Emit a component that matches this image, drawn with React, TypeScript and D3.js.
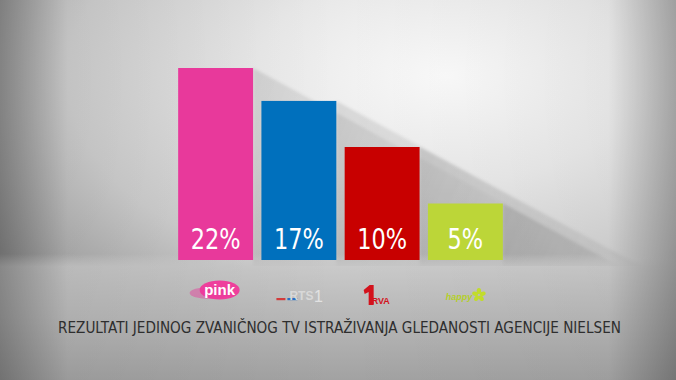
import React from 'react'
import * as d3 from 'd3'

// channel shares
const channels = ['pink', 'rts1', 'prva', 'happy']
const shares = [22, 17, 10, 5]
const barColors = ['#e8399b', '#0070bd', '#c80000', '#bcd638']
const caption = 'REZULTATI JEDINOG ZVANIČNOG TV ISTRAŽIVANJA GLEDANOSTI AGENCIJE NIELSEN'

const W = 676
const H = 380
const baseY = 260

const condensed = "'DejaVu Sans Condensed', 'DejaVu Sans', sans-serif"

export default function App() {
  const x = d3.scaleBand<string>().domain(channels).range([174, 507]).paddingInner(0.1).paddingOuter(0.05)
  // the broadcast graphic is not to a linear scale; two linear pieces fit it
  const y = d3.scaleLinear().domain([0, 10, 22]).range([baseY, baseY - 113, baseY - 192])

  const slope = 0.54
  const L = 360
  const cx = (c: string) => x(c)! + x.bandwidth() / 2

  return (
    <svg width={W} height={H} style={{ position: 'absolute', left: 0, top: 0, display: 'block' }}>
      <defs>
        <radialGradient id="bg" cx="0.66" cy="0.2" r="0.8">
          <stop offset="0" stopColor="#fafafa" />
          <stop offset="0.35" stopColor="#e8e8e8" />
          <stop offset="0.7" stopColor="#cdcdcd" />
          <stop offset="1" stopColor="#a0a0a0" />
        </radialGradient>
        <linearGradient id="floor" x1="0" y1="0" x2="0" y2="1">
          <stop offset="0" stopColor="#d0d0d0" stopOpacity="0" />
          <stop offset="0.1" stopColor="#c8c8c8" stopOpacity="0.85" />
          <stop offset="0.5" stopColor="#b8b8b8" stopOpacity="1" />
          <stop offset="1" stopColor="#a2a2a2" stopOpacity="1" />
        </linearGradient>
        <linearGradient id="vig" x1="0" y1="0" x2="1" y2="0">
          <stop offset="0" stopColor="#000" stopOpacity="0.3" />
          <stop offset="0.1" stopColor="#000" stopOpacity="0.05" />
          <stop offset="0.5" stopColor="#000" stopOpacity="0" />
          <stop offset="0.9" stopColor="#000" stopOpacity="0.03" />
          <stop offset="1" stopColor="#000" stopOpacity="0.28" />
        </linearGradient>
        <linearGradient id="shadow" x1="0" y1="0" x2="1" y2="0.54" gradientUnits="objectBoundingBox">
          <stop offset="0" stopColor="#000" stopOpacity="0.1" />
          <stop offset="0.45" stopColor="#000" stopOpacity="0.04" />
          <stop offset="1" stopColor="#000" stopOpacity="0" />
        </linearGradient>
        <clipPath id="wall">
          <rect x={0} y={0} width={W} height={baseY + 6} />
        </clipPath>
        <filter id="blur"><feGaussianBlur stdDeviation="1.5" /></filter>
      </defs>

      <rect x={0} y={0} width={W} height={H} fill="url(#bg)" />

      {/* long shadows cast to the lower right */}
      <g clipPath="url(#wall)" filter="url(#blur)">
        {channels.map((c, i) => {
          const x1 = x(c)! + x.bandwidth()
          const top = y(shares[i])
          const pts = [
            [x1, top],
            [x1 + L, top + slope * L],
            [x1 + L, baseY + 300],
            [x1, baseY + 300],
          ]
          return <polygon key={c} points={pts.map(p => p.join(',')).join(' ')} fill="url(#shadow)" />
        })}
      </g>

      <rect x={0} y={baseY - 6} width={W} height={H - baseY + 6} fill="url(#floor)" />
      <rect x={0} y={0} width={W} height={H} fill="url(#vig)" />

      {channels.map((c, i) => (
        <g key={c}>
          <rect x={x(c)} y={y(shares[i])} width={x.bandwidth()} height={baseY - y(shares[i])} fill={barColors[i]} />
          <text
            x={cx(c)}
            y={249}
            textAnchor="middle"
            fill="#fff"
            fontSize={29}
            fontStretch="condensed"
            fontFamily={condensed}
            transform={`translate(${cx(c)},0) scale(0.86,1) translate(${-cx(c)},0)`}
          >
            {shares[i]}%
          </text>
        </g>
      ))}

      {/* channel logos, approximated */}
      <g>
        <ellipse cx={cx('pink') + 4} cy={290} rx={20} ry={9.5} fill="#ee3f9c" />
        <ellipse cx={cx('pink') - 6} cy={293} rx={20} ry={6} fill="#e8399b" opacity={0.45} />
        <text x={cx('pink') + 4} y={295} textAnchor="middle" fill="#fff" fontSize={15} fontWeight="bold" fontFamily="'Liberation Sans', sans-serif">pink</text>

        <rect x={x('rts1')! + 15} y={298} width={9} height={2.2} fill="#d23b3b" />
        <rect x={x('rts1')! + 26} y={298} width={10} height={2.2} fill="#2a6fc4" />
        <text x={x('rts1')! + 40} y={300} textAnchor="middle" fill="#d8d8d8" fontSize={12} fontWeight="bold" fontFamily="'Liberation Sans', sans-serif">RTS</text>
        <text x={x('rts1')! + 57} y={302} textAnchor="middle" fill="#e2e2e2" fontSize={16} fontFamily="'Liberation Sans', sans-serif">1</text>

        <path
          d={`M${x('prva')! + 19},${290} l6,-5 h4 v20 h-5 v-13 l-4,2 z`}
          fill="#d3121c"
        />
        <text x={x('prva')! + 27} y={304} fill="#d3121c" fontSize={9} fontWeight="bold" fontFamily="'Liberation Sans', sans-serif">RVA</text>

        <text x={x('happy')! + 31} y={300} textAnchor="middle" fill="#b4cf2a" fontSize={9} fontStyle="italic" fontWeight="bold" fontFamily="'Liberation Sans', sans-serif">happy</text>
        {[0, 72, 144, 216, 288].map(a => {
          const px = x('happy')! + 51 + 4 * Math.cos((a - 90) * Math.PI / 180)
          const py = 295 + 4 * Math.sin((a - 90) * Math.PI / 180)
          return <ellipse key={a} cx={px} cy={py} rx={2.2} ry={3} transform={`rotate(${a} ${px} ${py})`} fill="#c2dc2c" />
        })}
      </g>

      <text
        x={339.5}
        y={333}
        textAnchor="middle"
        fill="#2e2e2e"
        fontSize={15}
        textLength={563}
        lengthAdjust="spacingAndGlyphs"
        fontStretch="condensed"
        fontFamily={condensed}
      >
        {caption}
      </text>
    </svg>
  )
}
